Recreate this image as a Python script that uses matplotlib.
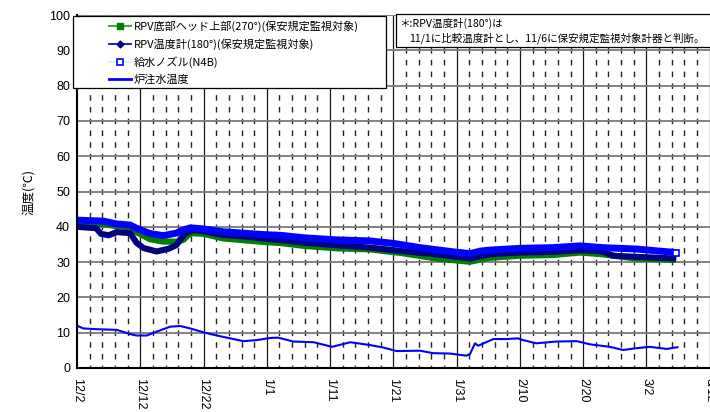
import numpy as np
import matplotlib
matplotlib.use("Agg")
import matplotlib.pyplot as plt
from matplotlib.lines import Line2D
from matplotlib.patches import Rectangle

# ---- data (days counted from 12/2) ----
tick_labels = ["12/2", "12/12", "12/22", "1/1", "1/11", "1/21", "1/31",
               "2/10", "2/20", "3/2", "3/12"]

head_days = [0, 4, 6.3, 8.4, 9.4, 11.5, 13.6, 15.7, 16.8, 17.9, 20, 23.1,
             26.3, 29.4, 32.1, 35.8, 41, 46.3, 51.5, 56.8, 62.1, 65.2, 70,
             75.2, 79.5, 83.1, 88.4, 94.7]
head_temp = [40.8, 40.7, 40.2, 39.8, 38.5, 36.5, 35.8, 35.8, 36.3, 38.2, 38.0,
             36.7, 36.2, 35.7, 35.4, 34.6, 33.9, 33.6, 32.5, 31.0, 30.1, 31.2,
             31.8, 32.0, 32.7, 32.2, 31.0, 30.6]

rpv_days = [0, 3, 3.8, 5, 6.3, 8.4, 9.4, 10.5, 12.6, 14.5, 15.7, 17, 18.4, 20,
            23.1, 26.3, 29.4, 32.1, 35.8, 41, 46.3, 51.5, 56.8, 62.1, 65.2,
            70, 75.2, 79.5, 83.1, 84.7, 88.4, 94.7]
rpv_temp = [40.0, 39.6, 38.0, 37.6, 38.5, 38.2, 35.5, 34.0, 33.0, 33.8, 34.8,
            38.0, 39.1, 38.7, 37.7, 37.3, 36.7, 36.2, 35.5, 34.8, 34.1, 33.1,
            32.2, 31.0, 32.2, 32.7, 32.9, 33.4, 33.0, 31.8, 31.5, 31.0]

fw_days = [0, 4.2, 6.3, 8.4, 9.4, 11.5, 13.6, 15.7, 16.8, 17.9, 20, 23.1,
           26.3, 29.4, 32.1, 35.8, 41, 46.3, 50, 54.2, 59.5, 62.1, 63.7,
           65.2, 70, 75.2, 79.5, 83.1, 88.4, 94.7]
fw_temp = [41.9, 41.6, 40.8, 40.5, 39.6, 38.1, 37.5, 38.2, 39.1, 39.7, 39.4,
           38.6, 38.2, 37.8, 37.6, 36.9, 36.3, 36.0, 35.3, 34.1, 32.9, 32.4,
           33.1, 33.4, 33.9, 34.1, 34.6, 34.1, 33.7, 32.7]

inj_days = [0, 1, 3.1, 6.3, 8.4, 9.4, 11, 12.6, 14.7, 16.3, 17.9, 20, 22.1,
            24.2, 26.3, 28.4, 30.5, 31.8, 34.2, 37.4, 40.3, 43.2, 46.3, 48.4,
            50.5, 54.2, 56.3, 58.9, 61.5, 62.1, 62.9, 63.4, 65.8, 67.9, 69.7,
            70.5, 72.6, 75.8, 79, 81.1, 84.2, 86.3, 88.4, 90.5, 93.2, 94.9]
inj_temp = [12.0, 11.2, 11.0, 10.8, 9.6, 9.2, 9.2, 10.3, 11.7, 11.9, 11.2,
            10.1, 9.2, 8.4, 7.6, 7.9, 8.5, 8.6, 7.5, 7.3, 6.0, 7.3, 6.5, 5.8,
            4.8, 4.9, 4.2, 4.1, 3.5, 3.9, 7.0, 6.3, 8.2, 8.2, 8.4, 7.9, 7.0,
            7.5, 7.6, 6.7, 6.0, 5.1, 5.6, 6.0, 5.4, 5.9]

labels = ["RPV底部ヘッド上部(270°)(保安規定監視対象)",
          "RPV温度計(180°)(保安規定監視対象)",
          "給水ノズル(N4B)",
          "炉注水温度"]
note_lines = ["＊:RPV温度計(180°)は",
              "11/1に比較温度計とし、11/6に保安規定監視対象計器と判断。"]

W, H = 710, 412
cjk = ["Noto Sans CJK JP", "DejaVu Sans"]
plt.rcParams["font.family"] = ["Liberation Sans", "Noto Sans CJK JP"]

fig = plt.figure(figsize=(W / 100, H / 100), dpi=100)
# axes: x=77px..(past right edge), y=15px..368px
ax = fig.add_axes([77 / W, (H - 368) / H, 696 / W, 353 / H])
ax.set_xlim(0, 110)
ax.set_ylim(0, 100)

# grid
for d in range(2, 110, 2):
    if d % 10:
        ax.vlines(d, 0, 100, colors="#222222", lw=1.0,
                  linestyles=[(2.0, (4.0, 4.47))], zorder=1)
for d in range(10, 111, 10):
    ax.axvline(d, color="#1a1a1a", lw=0.9, zorder=1)
for v in range(10, 101, 10):
    ax.axhline(v, color="#7a7a7a", lw=1.3, zorder=1)

# series
ax.plot(head_days, head_temp, color="#008000", lw=4.4, zorder=3,
        solid_capstyle="butt")
ax.plot(rpv_days, rpv_temp, color="#000080", lw=4.4, zorder=4,
        solid_capstyle="butt")
ax.plot(fw_days, fw_temp, color="#0000ff", lw=5.0, zorder=5,
        solid_capstyle="butt", marker="s", ms=5, mfc="white", mec="#0000ff",
        mew=1.2, markevery=[len(fw_days) - 1])
ax.plot(inj_days, inj_temp, color="#0000ff", lw=1.5, zorder=6)

ax.set_xticks(range(0, 101, 10))
ax.set_xticklabels(tick_labels, rotation=270, fontsize=9.5)
ax.set_yticks(range(0, 101, 10))
ax.tick_params(length=0, labelsize=9)
ax.tick_params(axis="x", pad=7)
ax.tick_params(axis="y", pad=5)
ax.set_ylabel("温度(℃)", family=cjk, fontsize=9, labelpad=10)

for s in ["top", "right"]:
    ax.spines[s].set_visible(False)
for s in ["left", "bottom"]:
    ax.spines[s].set_linewidth(1.5)
    ax.spines[s].set_zorder(7)

# legend box
fig.patches.append(Rectangle((73 / W, 1 - 88 / H), 313 / W, 72 / H,
                             transform=fig.transFigure, facecolor="white",
                             edgecolor="black", lw=0.9, zorder=8))
handles = [
    Line2D([], [], color="#44aa44", lw=1.5, marker="s", ms=5,
           mfc="#008000", mec="#008000"),
    Line2D([], [], color="#000080", lw=1.2, marker="D", ms=3.5,
           mfc="#000080", mec="#000080"),
    Line2D([], [], color="#ccffcc", lw=1.5, marker="s", ms=4.5,
           mfc="white", mec="#0000ff", mew=1.2),
    Line2D([], [], color="#0000ff", lw=2.0),
]
leg = fig.legend(handles, labels, loc="upper left",
                 bbox_to_anchor=(103 / W, 1 - 15 / H), frameon=False,
                 prop={"family": cjk, "size": 8}, borderpad=0,
                 handlelength=2.0, handletextpad=0.25, labelspacing=0.55)
leg.set_zorder(9)

# note box
fig.patches.append(Rectangle((396 / W, 1 - 47 / H), 330 / W, 33 / H,
                             transform=fig.transFigure, facecolor="white",
                             edgecolor="black", lw=0.9, zorder=8))
fig.text(399 / W, 1 - 23 / H, note_lines[0], family=cjk, fontsize=7.6,
         va="center", zorder=9)
fig.text(409 / W, 1 - 38 / H, note_lines[1], family=cjk, fontsize=7.6,
         va="center", zorder=9)

fig.savefig("out.png", dpi=100)
